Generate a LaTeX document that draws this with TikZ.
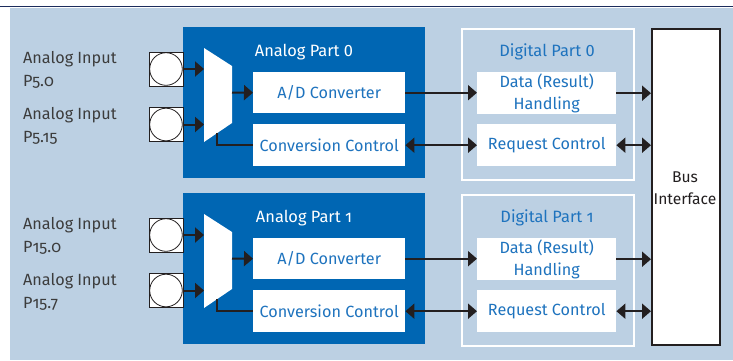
\documentclass[tikz,border=0pt]{standalone}
\usepackage{fontspec}
\setmainfont{Fira Sans}[Numbers=OldStyle]
\newfontfamily\lining{Fira Sans}[Numbers=Lining]
\usetikzlibrary{arrows.meta}
\definecolor{bgblue}{HTML}{BCD0E3}
\definecolor{ifxblue}{HTML}{0066B3}
\definecolor{txtblue}{HTML}{1E73BE}
\definecolor{navy}{HTML}{1C2C5C}
\definecolor{ink}{HTML}{231F20}
\definecolor{labelgray}{HTML}{3C3C3C}
\begin{document}
\begin{tikzpicture}[x=1pt,y=-1pt,
  blk/.style={rectangle, inner sep=0pt, anchor=north west},
  analogbox/.style={blk, fill=ifxblue, minimum width=242pt, minimum height=151pt},
  digitalbox/.style={blk, draw=white, line width=1.5pt, minimum width=172pt, minimum height=151pt},
  wbox/.style={blk, fill=white, text=txtblue, align=center, font=\fontsize{16.2}{21.5}\selectfont},
  title/.style={font=\fontsize{16.4}{18}\selectfont},
  lbl/.style={anchor=west, align=left, text=labelgray, font=\fontsize{16.2}{23}\selectfont, inner sep=0pt},
  pad/.style={rectangle, draw=ink, line width=0.8pt, fill=white, minimum size=34pt, inner sep=0pt,
    path picture={\draw[ink, line width=0.8pt] (path picture bounding box.center) circle (16.3pt);}},
  ln/.style={draw=ink, line width=2pt},
  arr/.style={ln, -{Triangle[length=9pt,width=15pt]}},
  arrr/.style={ln, {Triangle[length=9pt,width=15pt]}-{Triangle[length=9pt,width=15pt]}}]
\useasboundingbox (0,0) rectangle (733,360);
\fill[bgblue] (10,8) rectangle (733,360);
\draw[navy, line width=1.6pt] (0,6.5) -- (733,6.5);

\node[blk, fill=white, draw=ink, line width=1.6pt, minimum width=68pt, minimum height=316pt] (bus) at (651,28) {};
\node[align=center, font=\fontsize{15.6}{22}\selectfont, text=ink] (bustxt) at (685,188) {Bus\\Interface};

\foreach \i/\o/\num/\la/\lb in {0/0/{\lining 0}/P5.0/P5.15, 1/166/1/P15.0/P15.7}{
  \begin{scope}[shift={(0,\o)}]
    \node[analogbox] (ap\i) at (183,27) {};
    \node[title, text=white] (apt\i) at (304,52) {Analog Part \num};
    \node[digitalbox] (dp\i) at (461,28) {};
    \node[title, text=txtblue] (dpt\i) at (547,52) {Digital Part \num};
    \node[wbox, minimum width=152pt, minimum height=41pt] (ad\i) at (253,72) {A/D Converter};
    \node[wbox, minimum width=152pt, minimum height=42pt] (cc\i) at (253,124) {Conversion Control};
    \node[wbox, minimum width=139pt, minimum height=42pt] (dh\i) at (477,72) {Data (Result)\\Handling};
    \node[wbox, minimum width=139pt, minimum height=42pt] (rc\i) at (477,124) {Request Control};
    \node[lbl] (la\i) at (23,70) {Analog Input\\\la};
    \node[lbl] (lb\i) at (23,126) {Analog Input\\\lb};
    \node[pad] (pa\i) at (166,69) {};
    \node[pad] (pb\i) at (166,124.5) {};
    \fill[white] (204,48) -- (232,66) -- (232,123) -- (204,142) -- cycle;
    \coordinate (mia\i) at (204,69);
    \coordinate (mib\i) at (204,124.5);
    \coordinate (mo\i) at (232,92.5);
    \coordinate (mc\i) at (217,133);
    \draw[arr] (pa\i.east) -- (mia\i);
    \draw[arr] (pb\i.east) -- (mib\i);
    \draw[arr] (mo\i) -- (ad\i.west);
    \draw[ln] (mc\i) |- (cc\i.west);
    \draw[arr] (ad\i.east) -- (dh\i.west |- ad\i.east);
    \draw[arrr] (cc\i.east) -- (rc\i.west);
    \draw[arr] (dh\i.east) -- (bus.west |- dh\i.east);
    \draw[arrr] (rc\i.east) -- (bus.west |- rc\i.east);
  \end{scope}
}
\end{tikzpicture}
\end{document}
